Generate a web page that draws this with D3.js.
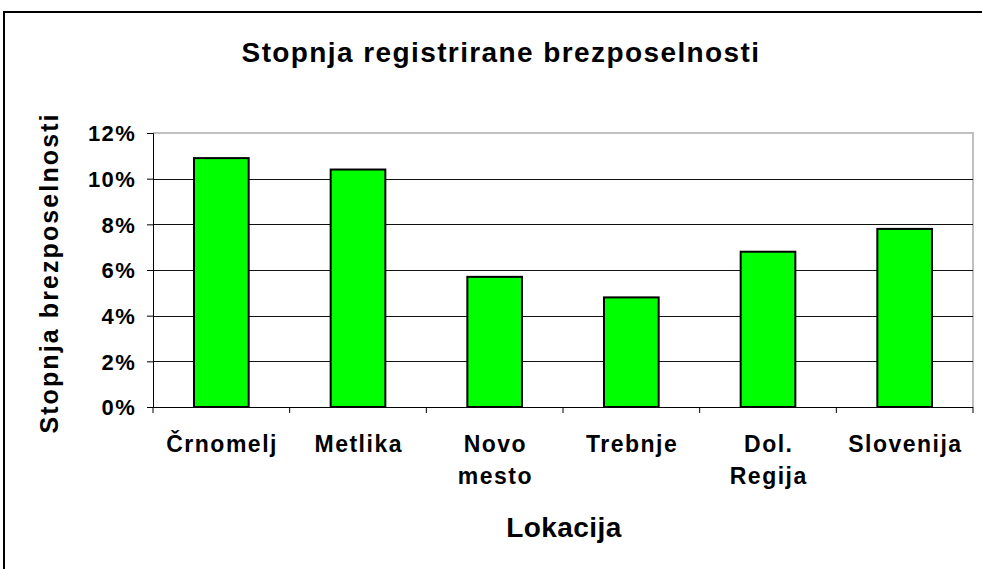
<!DOCTYPE html>
<html><head><meta charset="utf-8">
<script src="https://cdn.jsdelivr.net/npm/d3@7"></script>
<style>body{margin:0;background:#fff}svg{display:block;font-family:"Liberation Sans",Arial,sans-serif;font-weight:bold}</style>
</head><body>
<svg id="c" width="982" height="569"></svg>
<script>
const categories = [["Črnomelj"],["Metlika"],["Novo","mesto"],["Trebnje"],["Dol.","Regija"],["Slovenija"]];
const values = [0.109, 0.104, 0.057, 0.048, 0.068, 0.078];
const yTicks = [0, 0.02, 0.04, 0.06, 0.08, 0.10, 0.12];
const title = "Stopnja registrirane brezposelnosti";
const yTitle = "Stopnja brezposelnosti";
const xTitle = "Lokacija";

const svg = d3.select("#c");
const L = 153, R = 973, T = 133, B = 407;
const keys = categories.map(c => c.join(" "));
const x = d3.scaleBand().domain(keys).range([L, R]).paddingInner(0.6).paddingOuter(0.3);
const xb = d3.scaleBand().domain(keys).range([L, R]);
const y = d3.scaleLinear().domain([0, 0.12]).range([B, T]);

// outer frame
svg.append("rect").attr("x",4).attr("y",12).attr("width",990).attr("height",570)
  .attr("fill","none").attr("stroke","#000").attr("stroke-width",2);

// plot area border (top/right gray)
svg.append("path").attr("d",`M${L},${T}H${R}V${B}`).attr("fill","none").attr("stroke","#c0c0c0").attr("stroke-width",2);

// gridlines
svg.append("g").selectAll("line").data(yTicks.filter(d=>d>0 && d<0.12)).join("line")
  .attr("x1",L).attr("x2",R).attr("y1",d=>Math.round(y(d))+0.5).attr("y2",d=>Math.round(y(d))+0.5)
  .attr("stroke","#111").attr("stroke-width",1);

// bars
svg.append("g").selectAll("rect").data(values).join("rect")
  .attr("x",(d,i)=>x(keys[i])).attr("width",x.bandwidth())
  .attr("y",d=>y(d)).attr("height",d=>B-y(d))
  .attr("fill","#00ff00").attr("stroke","#000").attr("stroke-width",2);

// y axis
const ya = d3.axisLeft(y).tickValues(yTicks).tickFormat(d3.format(".0%")).tickSize(6).tickPadding(11);
const gy = svg.append("g").attr("transform",`translate(${L},0)`).call(ya);
gy.select(".domain").attr("stroke","#000").attr("stroke-width",1);
gy.selectAll(".tick line").attr("stroke","#000");
gy.selectAll("text").attr("font-size",22).attr("font-weight","bold").attr("fill","#000")
  .attr("letter-spacing","1.3px").attr("dy","0.36em")
  .attr("font-family","Liberation Sans, Arial, sans-serif");

// x axis
svg.append("line").attr("x1",L).attr("x2",R).attr("y1",B+0.5).attr("y2",B+0.5).attr("stroke","#000");
const bounds = keys.map(k=>xb(k)).concat([R]);
svg.append("g").selectAll("line").data(bounds).join("line")
  .attr("x1",d=>d).attr("x2",d=>d).attr("y1",B).attr("y2",B+6).attr("stroke","#000");
const xl = svg.append("g").selectAll("text").data(categories).join("text")
  .attr("x",(d,i)=>xb(keys[i])+xb.bandwidth()/2+0.75).attr("y",452)
  .attr("text-anchor","middle").attr("font-size",23).attr("letter-spacing","1.5px").attr("fill","#000");
xl.each(function(d){
  const t = d3.select(this);
  d.forEach((s,j)=>t.append("tspan").attr("x",t.attr("x")).attr("dy",j?31.5:0).text(s));
});

// titles
svg.append("text").attr("x",501).attr("y",62).attr("text-anchor","middle").attr("font-size",28)
  .attr("letter-spacing","1.4px").text(title);
svg.append("text").attr("transform",`translate(58,273) rotate(-90)`).attr("text-anchor","middle").attr("font-size",25)
  .attr("letter-spacing","2.1px").text(yTitle);
svg.append("text").attr("x",564).attr("y",537).attr("text-anchor","middle").attr("font-size",28)
  .attr("letter-spacing","0.4px").text(xTitle);
</script>
</body></html>
